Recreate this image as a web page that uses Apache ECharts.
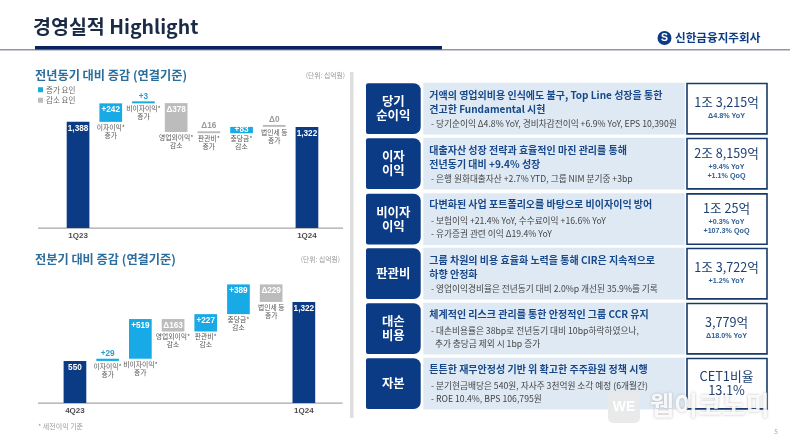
<!DOCTYPE html>
<html><head><meta charset="utf-8">
<style>html,body{margin:0;padding:0;background:#fff}#c{width:790px;height:442px}</style>
<script src="https://cdn.jsdelivr.net/npm/echarts@6/dist/echarts.min.js"></script>
</head><body><div id="c"></div>
<script>
var FONT = '"Noto Sans CJK KR","Noto Sans",sans-serif';
var LATIN = 'Arial,"Liberation Sans","Noto Sans CJK KR",sans-serif';
var NAVY='#0c3b85', SKY='#17aae6', GRAY='#bcbcbc';

// 전년동기 대비 증감
var yoyCategories = ['1Q23','이자이익','비이자이익','영업외이익','판관비','충당금','법인세 등','1Q24'];
var yoyBase  = [0,1388,1630,1255,1239,1239,1322,0];
var yoyTotal = [1388,0,0,0,0,0,0,1322];
var yoyInc   = [0,242,3,0,0,83,0,0];
var yoyDec   = [0,0,0,378,16,0,0,0];
var yoyEffect= ['','증가','증가','감소','증가','감소','증가',''];
var yoyMarks = ['','*','*','*','*','*','',''];

// 전분기 대비 증감
var qoqCategories = ['4Q23','이자이익','비이자이익','영업외이익','판관비','충당금','법인세 등','1Q24'];
var qoqBase  = [0,550,579,935,935,1162,1322,0];
var qoqTotal = [550,0,0,0,0,0,0,1322];
var qoqInc   = [0,29,519,0,227,389,0,0];
var qoqDec   = [0,0,0,163,0,0,229,0];
var qoqEffect= ['','증가','증가','감소','감소','감소','증가',''];
var qoqMarks = ['','*','*','*','*','*','',''];

// 우측 요약
var rowNames = ['당기\n순이익','이자\n이익','비이자\n이익','판관비','대손\n비용','자본'];
var rowHeads = [
 ['거액의 영업외비용 인식에도 불구, Top Line 성장을 통한','견고한 Fundamental 시현'],
 ['대출자산 성장 전략과 효율적인 마진 관리를 통해','전년동기 대비 +9.4% 성장'],
 ['다변화된 사업 포트폴리오를 바탕으로 비이자이익 방어'],
 ['그룹 차원의 비용 효율화 노력을 통해 CIR은 지속적으로','하향 안정화'],
 ['체계적인 리스크 관리를 통한 안정적인 그룹 CCR 유지'],
 ['튼튼한 재무안정성 기반 위 확고한 주주환원 정책 시행']];
var rowSubs = [
 ['- 당기순이익 Δ4.8% YoY, 경비차감전이익 +6.9% YoY, EPS 10,390원'],
 ['- 은행 원화대출자산 +2.7% YTD, 그룹 NIM 분기중 +3bp'],
 ['- 보험이익 +21.4% YoY, 수수료이익 +16.6% YoY','- 유가증권 관련 이익 Δ19.4% YoY'],
 ['- 영업이익경비율은 전년동기 대비 2.0%p 개선된 35.9%를 기록'],
 ['- 대손비용률은 38bp로 전년동기 대비 10bp하락하였으나,','  추가 충당금 제외 시 1bp 증가'],
 ['- 분기현금배당은 540원, 자사주 3천억원 소각 예정 (6개월간)','- ROE 10.4%, BPS 106,795원']];
var rowValues = [['1조 3,215억'],['2조 8,159억'],['1조 25억'],['1조 3,722억'],['3,779억'],['CET1비율','13.1%']];
var rowNotes  = [['Δ4.8% YoY'],['+9.4% YoY','+1.1% QoQ'],['+0.3% YoY','+107.3% QoQ'],['+1.2% YoY'],['Δ18.0% YoY'],[]];

function fmt(v){return v.toString().replace(/\B(?=(\d{3})+$)/g,',');}
function barLabel(v,sign){
  if(!v && sign==='') return {show:false};
  var txt=(sign==='')?fmt(v):sign+fmt(v);
  if(v<30) return {show:true,formatter:txt,position:'top',distance:1,color:sign==='+'?'#2a9fc9':'#9a9a9a',fontSize:8.2,fontWeight:'bold',fontFamily:LATIN};
  return {show:true,formatter:txt,position:v<200?'inside':'insideTop',distance:2.5,color:'#fff',fontSize:8.2,fontWeight:'bold',fontFamily:LATIN};
}
function makeSeries(idx,cats,base,total,inc,dec,effect,marks,zeroDec){
  function d(arr,sign){return arr.map(function(v,i){
    var isOn=v>0||(zeroDec===i&&sign==='Δ');
    return isOn?{value:v,label:barLabel(v,sign)}:{value:null};
  });}
  var common={type:'bar',stack:'s'+idx,xAxisIndex:idx,yAxisIndex:idx,barWidth:22.7,barMinHeight:2,animation:false,emphasis:{disabled:true}};
  return [
   Object.assign({},common,{name:'base'+idx,barMinHeight:0,itemStyle:{color:'transparent'},silent:true,
     data:base.map(function(v,i){
       return {value:v,label:{show:!!effect[i],position:'insideTop',distance:1.2,lineHeight:8,fontSize:6.8,color:'#555',fontFamily:FONT,
         formatter:cats[i]+marks[i]+'\n'+effect[i]}};
     })}),
   Object.assign({},common,{name:'total'+idx,itemStyle:{color:NAVY},data:d(total,'')}),
   Object.assign({},common,{name:'증가 요인',itemStyle:{color:SKY},data:d(inc,'+')}),
   Object.assign({},common,{name:'감소 요인',itemStyle:{color:GRAY},data:d(dec,'Δ')})
  ];
}
function xAxis(idx,cats){return {type:'category',gridIndex:idx,data:cats,axisLine:{show:false},axisTick:{show:false},
  axisLabel:{interval:0,margin:4,fontSize:8,fontWeight:'bold',color:'#4d4d4d',fontFamily:LATIN,
    formatter:function(v,i){return (i===0||i===cats.length-1)?v:'';}}};}
function yAxis(idx){return {type:'value',gridIndex:idx,min:0,max:1700,show:false};}

var g=[];
function rect(x,y,w,h,fill,r,z,extra){g.push(Object.assign({type:'rect',shape:{x:x,y:y,width:w,height:h,r:r||0},style:{fill:fill},z:z||0,silent:true},extra||{}));}
function text(x,y,s,size,color,weight,align,font,z,extra){g.push({type:'text',x:x,y:y,z:z||1,silent:true,style:Object.assign({text:s,fontSize:size,fill:color,fontWeight:weight||'normal',textAlign:align||'left',textVerticalAlign:'middle',fontFamily:font||FONT},extra||{})});}

// header
text(33,27,'경영실적 Highlight',19.5,'#1c2b45','bold');
rect(0,49,790,1.4,'#8f98a6');
rect(35,46,407,3.4,'#0b2260');
g.push({type:'circle',shape:{cx:664.5,cy:38,r:7},style:{fill:'#0c3b85'},silent:true,z:1});
text(664.5,38,'S',10.5,'#fff','bold','center',LATIN,2);
text(675,38,'신한금융지주회사',11.6,'#0c3b85','bold');

// left panel
rect(350,72,3.5,346,'#dedede');
text(35,75,'전년동기 대비 증감 (연결기준)',12.2,'#2b6d9c','bold');
text(345,75,'(단위: 십억원)',6.8,'#999','normal','right');
text(35,259,'전분기 대비 증감 (연결기준)',12.2,'#2b6d9c','bold');
text(340,259,'(단위: 십억원)',6.8,'#999','normal','right');
rect(38,227.4,305,1.4,'#a4a7ab');
rect(38,402.4,304.5,1.4,'#a4a7ab');
text(38,426,'* 세전이익 기준',7,'#999');
text(776,432,'5',6.5,'#aaa','normal','center');

// right panel rows
var rowTops=[83.3,138.3,193.7,248.3,303.3,358.3], rowH=50.8;
rowNames.forEach(function(n,i){
  var t=rowTops[i];
  rect(366,t,54.7,rowH,'#0c3b85',[2,7,7,2]);
  var nl=n.split('\n');
  nl.forEach(function(s,k){text(393.3,t+rowH/2+(k-(nl.length-1)/2)*14,s,12.4,'#fff','bold','center');});
  rect(423.3,t-0.5,261.5,rowH+1,'#dfe9f4');
  var heads=rowHeads[i], subs=rowSubs[i];
  var ys=heads.length===2?[12,26,40]:[11,27,40];
  heads.forEach(function(s,k){text(429.3,t+ys[k],s,10,'#17488a','bold');});
  subs.forEach(function(s,k){text(431,t+ys[heads.length+k],s,8.7,'#444');});
  rect(687,t+0.2,80,rowH-0.4,'#fff',0,0,{style:{fill:'#fff',stroke:'#173a6b',lineWidth:1.6}});
  var vals=rowValues[i], notes=rowNotes[i];
  if(vals.length===2){
    vals.forEach(function(s,k){text(726.5,t+18+k*14,s,12.8,'#1c3f70','normal','center');});
  } else {
    var vy=notes.length===2?14.5:18.7;
    text(726.5,t+vy,vals[0],12.6,'#1c3f70','normal','center');
    notes.forEach(function(s,k){text(726.5,t+(notes.length===2?28.7:33)+k*9,s,7.2,'#2e5f95','bold','center',LATIN);});
  }
});
// watermark
rect(608,392,32,31,'rgba(232,232,232,0.92)',5,5);
text(624,407.5,'WE',14,'#fff','bold','center',LATIN,6);
text(650,405,'웹이코노미',26,'rgba(255,255,255,0.88)','bold','left',FONT,6,{textShadowColor:'rgba(120,120,120,0.55)',textShadowBlur:3});

var option={
  backgroundColor:'#fff',
  animation:false,
  legend:{data:['증가 요인','감소 요인'],orient:'vertical',left:38,top:86,itemWidth:5,itemHeight:5,itemGap:3,icon:'rect',selectedMode:false,
    textStyle:{fontSize:7.5,color:'#666',fontFamily:FONT,padding:[0,0,0,-2]},padding:0},
  grid:[{left:61.7,width:261.6,top:98,height:130},{left:58.6,width:261.6,top:273,height:130}],
  xAxis:[xAxis(0,yoyCategories),xAxis(1,qoqCategories)],
  yAxis:[yAxis(0),yAxis(1)],
  series:makeSeries(0,yoyCategories,yoyBase,yoyTotal,yoyInc,yoyDec,yoyEffect,yoyMarks,6)
    .concat(makeSeries(1,qoqCategories,qoqBase,qoqTotal,qoqInc,qoqDec,qoqEffect,qoqMarks,-1)),
  graphic:{elements:g}
};
echarts.init(document.getElementById('c')).setOption(option);
</script></body></html>
